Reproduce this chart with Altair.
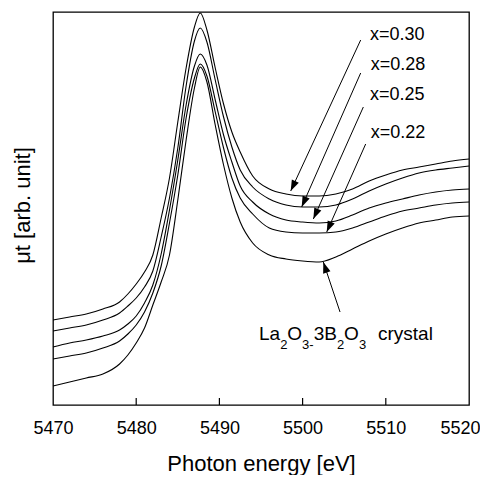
import math
import altair as alt
import pandas as pd

# ---------------- data ----------------
energy = [5470, 5472, 5474, 5476, 5478, 5479, 5480, 5481, 5482, 5483, 5484, 5485,
          5486, 5487, 5487.7, 5488.5, 5489.5, 5490.5, 5491.5, 5492.5, 5494, 5496,
          5498, 5500, 5502, 5504, 5506, 5508, 5510, 5512, 5514, 5516, 5518, 5520]

mu_x030 = [86, 89, 92, 97, 104, 112, 122, 134, 151, 188, 228, 284, 338, 379, 393, 376,
           338, 302, 274, 254, 230, 217, 212, 210, 210, 212, 217, 225, 231, 236, 239,
           242, 245, 247]
mu_x028 = [75, 78, 81, 86, 93, 100, 108, 119, 135, 169, 208, 258, 320, 365, 378, 364,
           326, 289, 259, 236, 219, 207, 201, 199, 199, 201, 207, 215, 222, 228, 233,
           236, 238, 240]
mu_x025 = [59, 63, 66, 70, 76, 82, 90, 103, 121, 152, 196, 246, 301, 340, 352, 341,
           306, 271, 244, 220, 204, 192, 186, 184, 183, 185, 191, 198, 203, 207, 211,
           214, 216, 217]
mu_x022 = [47, 50, 53, 58, 65, 72, 81, 94, 113, 140, 183, 231, 288, 328, 342, 330,
           294, 258, 228, 208, 192, 178, 174, 173, 173, 174, 178, 184, 190, 195, 198,
           201, 203, 204]
mu_crystal = [20, 24, 28, 32, 42, 51, 63, 78, 101, 124, 151, 206, 266, 318, 339, 324,
              281, 241, 208, 184, 163, 151, 147, 145, 144, 149, 157, 165, 172, 178, 183,
              186, 189, 190]

series_names = ["x=0.30", "x=0.28", "x=0.25", "x=0.22", "crystal"]
x_ticks = [5470, 5480, 5490, 5500, 5510, 5520]

# labels "x=..." (left edge, baseline)
label_text = ["x=0.30", "x=0.28", "x=0.25", "x=0.22"]
label_x = [5508.1, 5508.2, 5508.1, 5508.2]
label_y = [366, 336, 306, 268]

# arrows: tail -> tip
arrow_x1 = [5506.98, 5506.98, 5507.30, 5507.58, 5504.5]
arrow_y1 = [366, 333, 299, 262, 94]
arrow_x2 = [5498.57, 5499.89, 5501.29, 5502.90, 5502.49]
arrow_y2 = [215, 199, 187, 174, 144]

# crystal label pieces (left edge, baseline)
cry_text = ["La", "2", "O", "3-", "3B", "2", "O", "3", "crystal"]
cry_sub = [False, True, False, True, False, True, False, True, False]
cry_x = [5494.76, 5497.30, 5498.16, 5499.94, 5501.33, 5504.12, 5504.99, 5506.77, 5509.06]

# ---------------- layout ----------------
W, H = 416, 393
XDOM = [5470, 5520]
YDOM = [1, 394]
FONT = "Liberation Sans"

rows = []
for name, vals in zip(series_names, [mu_x030, mu_x028, mu_x025, mu_x022, mu_crystal]):
    for e, v in zip(energy, vals):
        rows.append({"energy": e, "mu": v, "series": name})
curves_df = pd.DataFrame(rows)

sx = W / (XDOM[1] - XDOM[0])
sy = H / (YDOM[1] - YDOM[0])
angles = []
for x1, y1, x2, y2 in zip(arrow_x1, arrow_y1, arrow_x2, arrow_y2):
    dx = (x2 - x1) * sx
    dy = -(y2 - y1) * sy
    angles.append(math.degrees(math.atan2(dx, -dy)) % 360)
arrows_df = pd.DataFrame({"x1": arrow_x1, "y1": arrow_y1, "x2": arrow_x2,
                          "y2": arrow_y2, "angle": angles})
labels_df = pd.DataFrame({"text": label_text, "x": label_x, "y": label_y})
cry_df = pd.DataFrame({"text": cry_text, "x": cry_x,
                       "y": [57 if s else 66 for s in cry_sub], "sub": cry_sub})
ticks_df = pd.DataFrame({"t": x_ticks[1:-1]})

xscale = alt.Scale(domain=XDOM, nice=False, zero=False)
yscale = alt.Scale(domain=YDOM, nice=False, zero=False)

last_tick = "datum.value >= %d" % x_ticks[-1]
xaxis = alt.Axis(values=x_ticks, format="d", ticks=False, tickSize=0, grid=False,
                 domain=False, labelFont=FONT, labelFontSize=18, labelColor="black",
                 labelPadding=14, labelFlush=False, labelOverlap=False,
                 labelAlign={"condition": {"test": last_tick, "value": "right"},
                             "value": "center"},
                 labelOffset={"condition": {"test": last_tick, "value": 11},
                              "value": 0},
                 title="Photon energy [eV]", titleFont=FONT, titleFontSize=22,
                 titleFontWeight="normal", titleColor="black", titlePadding=16)
yaxis = alt.Axis(labels=False, ticks=False, tickSize=0, grid=False, domain=False,
                 title="μt [arb. unit]", titleFont=FONT, titleFontSize=22,
                 titleFontWeight="normal", titleColor="black", titlePadding=19,
                 titleY=193)


def X(field):
    return alt.X(field, type="quantitative", scale=xscale, axis=xaxis)


def Y(field):
    return alt.Y(field, type="quantitative", scale=yscale, axis=yaxis)


curves = alt.Chart(curves_df).mark_line(
    color="black", strokeWidth=1.1, interpolate="monotone"
).encode(x=X("energy"), y=Y("mu"), detail="series:N")

ticks = alt.Chart(ticks_df).mark_rule(color="black", strokeWidth=1.2).encode(
    x=X("t"), y=alt.value(H), y2=alt.value(H - 7),
)

shafts = alt.Chart(arrows_df).mark_rule(color="black", strokeWidth=1).encode(
    x=X("x1"), y=Y("y1"), x2="x2:Q", y2="y2:Q",
)

heads = alt.Chart(arrows_df).mark_point(
    shape="M0,0 L-0.7,2 L0.7,2 Z", filled=True, color="black", opacity=1,
    size=121, strokeWidth=0
).encode(x=X("x2"), y=Y("y2"), angle=alt.Angle("angle:Q", scale=None))

labels = alt.Chart(labels_df).mark_text(
    align="left", baseline="alphabetic", font=FONT, fontSize=18, color="black"
).encode(x=X("x"), y=Y("y"), text="text:N")

cry_main = alt.Chart(cry_df).transform_filter("!datum.sub").mark_text(
    align="left", baseline="alphabetic", font=FONT, fontSize=19, color="black"
).encode(x=X("x"), y=Y("y"), text="text:N")

cry_subs = alt.Chart(cry_df).transform_filter("datum.sub").mark_text(
    align="left", baseline="alphabetic", font=FONT, fontSize=13, color="black"
).encode(x=X("x"), y=Y("y"), text="text:N")

chart = alt.layer(curves, ticks, shafts, heads, labels, cry_main, cry_subs).properties(
    width=W, height=H,
    padding={"left": 45, "top": 4, "right": 11, "bottom": 70},
    autosize="none",
    background="white",
).configure_view(stroke="black", strokeWidth=1.3)

chart.save("out.html", embed_options={"renderer": "svg", "actions": False})
